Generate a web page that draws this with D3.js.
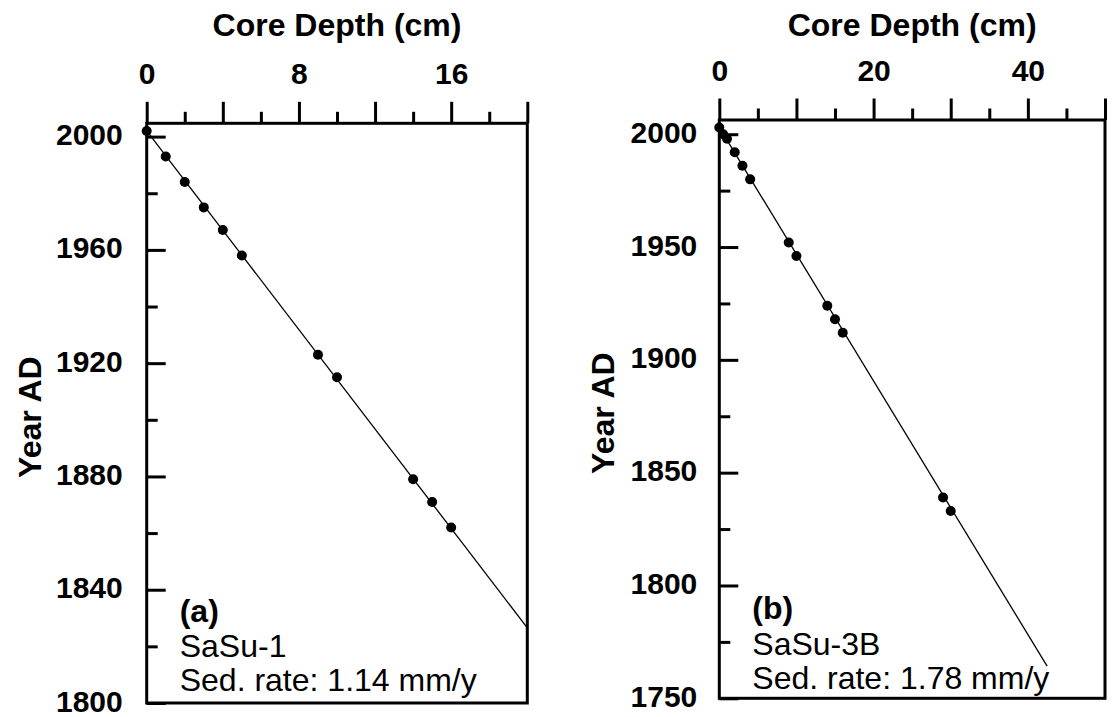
<!DOCTYPE html>
<html>
<head>
<meta charset="utf-8">
<script src="https://cdn.jsdelivr.net/npm/d3@7"></script>
<style>
  body { margin: 0; background: #fff; }
  text { font-family: "Liberation Sans", Arial, Helvetica, sans-serif; fill: #000; }
</style>
</head>
<body>
<svg id="chart" width="1117" height="717"></svg>
<script>
// Core SaSu-1: depth (cm) and dated year AD
const depthA = [0, 1, 2, 3, 4, 5, 9, 10, 14, 15, 16];
const yearA  = [2002, 1993, 1984, 1975, 1967, 1958, 1923, 1915, 1879, 1871, 1862];

// Core SaSu-3B: depth (cm) and dated year AD
const depthB = [0, 0.5, 1, 2, 3, 4, 9, 10, 14, 15, 16, 29, 30];
const yearB  = [2003, 2000, 1998, 1992, 1986, 1980, 1952, 1946, 1924, 1918, 1912, 1839, 1833];

// Labels and fitted accumulation lines
const panelTags    = ["(a)", "(b)"];
const coreNames    = ["SaSu-1", "SaSu-3B"];
const sedRates     = [1.14, 1.78];   // mm/y
const surfaceYears = [2002, 2003];   // fitted year at 0 cm
const lineEndDepth = [20, 42.5];     // cm

// Axis ticks
const depthMajorA = [0, 4, 8, 12, 16, 20];
const depthMinorA = [2, 6, 10, 14, 18];
const depthLabelA = [0, 8, 16];
const yearMajorA  = [1800, 1840, 1880, 1920, 1960, 2000];
const yearMinorA  = [1820, 1860, 1900, 1940, 1980];

const depthMajorB = [0, 10, 20, 30, 40, 50];
const depthMinorB = [5, 15, 25, 35, 45];
const depthLabelB = [0, 20, 40];
const yearMajorB  = [1750, 1800, 1850, 1900, 1950, 2000];
const yearMinorB  = [1775, 1825, 1875, 1925, 1975];

const panels = [
  {
    depth: depthA, year: yearA, i: 0,
    xDom: [0, 20], yDom: [1800, 2004.7],
    left: 146.7, right: 527.3, top: 123.3, bottom: 703,
    xMajor: depthMajorA, xMinor: depthMinorA, xLab: depthLabelA,
    yMajor: yearMajorA, yMinor: yearMinorA, yPad: 24,
    titleX: 41, annBase: [622, 657, 691]
  },
  {
    depth: depthB, year: yearB, i: 1,
    xDom: [0, 50], yDom: [1750, 2006.3],
    left: 719.3, right: 1105, top: 120, bottom: 698.3,
    xMajor: depthMajorB, xMinor: depthMinorB, xLab: depthLabelB,
    yMajor: yearMajorB, yMinor: yearMinorB, yPad: 22,
    titleX: 614, annBase: [619, 655, 689]
  }
];

const svg = d3.select("#chart");

panels.forEach(p => {
  const x = d3.scaleLinear().domain(p.xDom).range([p.left, p.right]);
  const y = d3.scaleLinear().domain(p.yDom).range([p.bottom, p.top]);
  const g = svg.append("g");

  // Top depth axis: long and short ticks pointing outward
  const xMaj = g.append("g").attr("transform", `translate(0,${p.top})`)
    .call(d3.axisTop(x).tickValues(p.xMajor).tickSize(21.5).tickPadding(18)
      .tickFormat(d => p.xLab.includes(d) ? d : ""));
  const xMin = g.append("g").attr("transform", `translate(0,${p.top})`)
    .call(d3.axisTop(x).tickValues(p.xMinor).tickSize(11.5).tickFormat(""));

  // Left year axis: ticks pointing into the plot
  const yMaj = g.append("g").attr("transform", `translate(${p.left},0)`)
    .call(d3.axisLeft(y).tickValues(p.yMajor).tickSize(-19).tickPadding(p.yPad)
      .tickFormat(d3.format("d")));
  const yMin = g.append("g").attr("transform", `translate(${p.left},0)`)
    .call(d3.axisLeft(y).tickValues(p.yMinor).tickSize(-11).tickFormat(""));

  [xMaj, xMin, yMaj, yMin].forEach(a => {
    a.select(".domain").remove();
    a.selectAll(".tick line").attr("stroke", "#000").attr("stroke-width", 3);
    a.selectAll(".tick text").style("font-size", "30px").style("font-weight", "bold")
      .attr("fill", "#000");
  });
  yMaj.selectAll(".tick text").attr("dy", "0.27em");

  // Frame
  g.append("rect")
    .attr("x", p.left).attr("y", p.top)
    .attr("width", p.right - p.left).attr("height", p.bottom - p.top)
    .attr("fill", "none").attr("stroke", "#000").attr("stroke-width", 3);

  // Axis titles
  g.append("text")
    .attr("x", (p.left + p.right) / 2).attr("y", 36)
    .attr("text-anchor", "middle")
    .style("font-size", "32px").style("font-weight", "bold")
    .text("Core Depth (cm)");
  g.append("text")
    .attr("transform", `translate(${p.titleX},${(p.top + p.bottom) / 2 + 4}) rotate(-90)`)
    .attr("text-anchor", "middle")
    .style("font-size", "32px").style("font-weight", "bold")
    .text("Year AD");

  // Fitted line from sedimentation rate (mm/y -> cm/y)
  const rateCm = sedRates[p.i] / 10;
  const fit = [0, lineEndDepth[p.i]].map(d => [d, surfaceYears[p.i] - d / rateCm]);
  g.append("path")
    .datum(fit)
    .attr("fill", "none").attr("stroke", "#000").attr("stroke-width", 1.3)
    .attr("d", d3.line().x(d => x(d[0])).y(d => y(d[1])));

  // Dated samples
  g.selectAll("circle.pt")
    .data(p.depth.map((d, k) => [d, p.year[k]]))
    .join("circle")
    .attr("class", "pt")
    .attr("cx", d => x(d[0])).attr("cy", d => y(d[1]))
    .attr("r", 5).attr("fill", "#000");

  // Annotations
  const ax = p.left + 33;
  g.append("text").attr("x", ax).attr("y", p.annBase[0])
    .style("font-size", "32px").style("font-weight", "bold").text(panelTags[p.i]);
  g.append("text").attr("x", ax).attr("y", p.annBase[1])
    .style("font-size", "32px").text(coreNames[p.i]);
  g.append("text").attr("x", ax).attr("y", p.annBase[2])
    .style("font-size", "32px").text(`Sed. rate: ${sedRates[p.i].toFixed(2)} mm/y`);
});
</script>
</body>
</html>
